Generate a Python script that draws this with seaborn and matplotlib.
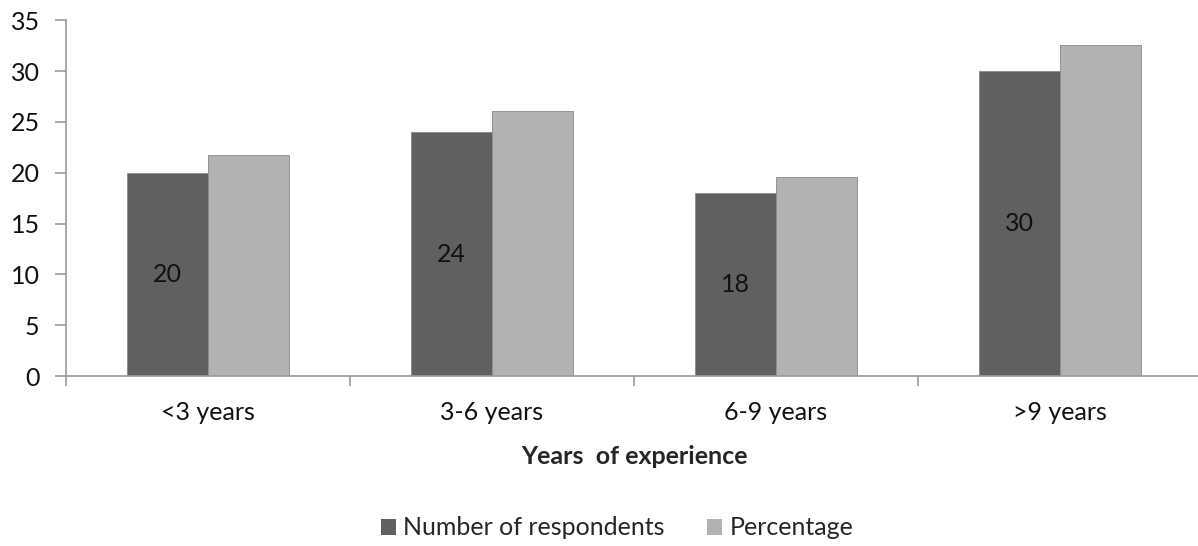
import matplotlib
matplotlib.use("Agg")
import matplotlib.pyplot as plt
import seaborn as sns
import pandas as pd

categories = ["<3 years", "3-6 years", "6-9 years", ">9 years"]
respondents = [20, 24, 18, 30]
percentage = [21.7, 26.1, 19.6, 32.6]
series_names = ["Number of respondents", "Percentage"]
colors = ["#606060", "#b2b2b2"]

df = pd.DataFrame({
    "category": categories * 2,
    "value": respondents + percentage,
    "series": [series_names[0]] * len(categories) + [series_names[1]] * len(categories),
})

sns.set_theme(style="white")
plt.rcParams["font.family"] = ["Lato", "DejaVu Sans"]

fig = plt.figure(figsize=(11.98, 5.46), dpi=100)
ax = fig.add_axes([0.0551, 0.311, 0.9482, 0.652])

sns.barplot(data=df, x="category", y="value", hue="series", order=categories,
            hue_order=series_names, palette=colors, width=0.57, gap=0,
            edgecolor="#8a8a8a", linewidth=0.6, ax=ax, legend=True)

# value labels inside the respondent bars
ax.bar_label(ax.containers[0], labels=[str(v) for v in respondents],
             label_type="center", fontsize=18, color="#111111")

ax.set_ylim(0, 35)
ax.set_yticks(range(0, 36, 5))
ax.set_xlim(-0.5, len(categories) - 0.5)
ax.set_ylabel("")
ax.set_xlabel("Years  of experience", fontsize=18, fontweight="bold", labelpad=15)

for side in ["top", "right"]:
    ax.spines[side].set_visible(False)
for side in ["left", "bottom"]:
    ax.spines[side].set_color("#9a9a9a")
    ax.spines[side].set_linewidth(1.2)

ax.tick_params(axis="y", which="both", left=True, length=8, width=1.2, color="#9a9a9a",
               labelsize=18, pad=11, labelcolor="#111111")
ax.tick_params(axis="x", which="major", bottom=False, length=0, labelsize=18, pad=18,
               labelcolor="#111111")
# category-boundary ticks on the x axis
ax.set_xticks([i - 0.5 for i in range(len(categories) + 1)], minor=True)
ax.tick_params(axis="x", which="minor", bottom=True, length=7, width=1.2, color="#9a9a9a")

ax.get_legend().remove()
handles, labels = ax.get_legend_handles_labels()
leg = fig.legend(handles, labels, loc="center", bbox_to_anchor=(0.515, 0.033), ncol=2,
                 frameon=False, fontsize=18, handlelength=0.6, handleheight=0.6,
                 handletextpad=0.3, columnspacing=1.7, borderaxespad=0, borderpad=0)
for h in leg.legend_handles:
    h.set_edgecolor("none")

fig.savefig("out.png", dpi=100)
